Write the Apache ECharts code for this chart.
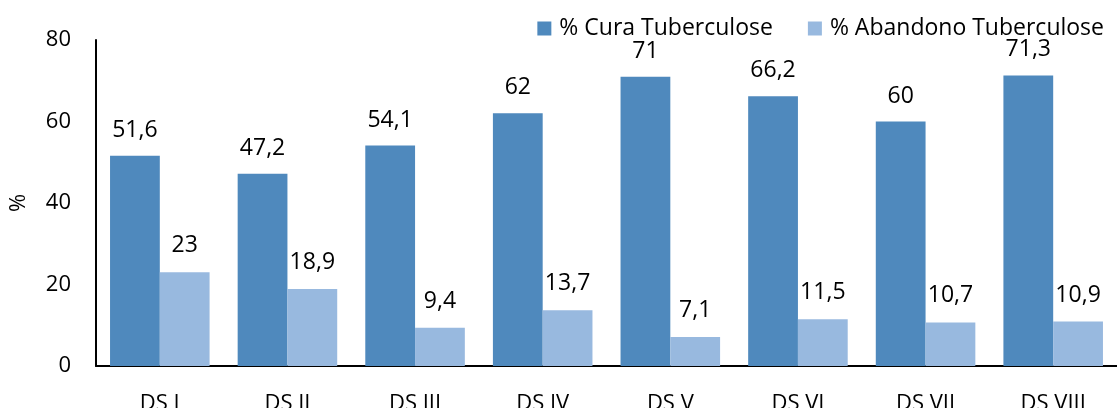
<!DOCTYPE html>
<html>
<head>
<meta charset="utf-8">
<script src="https://cdn.jsdelivr.net/npm/echarts@6/dist/echarts.min.js"></script>
<style>
  html, body { margin: 0; padding: 0; background: #fff; }
  #main { width: 1117px; height: 408px; }
</style>
</head>
<body>
<div id="main"></div>
<script>
// distritos sanitarios
const categories = ['DS I', 'DS II', 'DS III', 'DS IV', 'DS V', 'DS VI', 'DS VII', 'DS VIII'];
const cura = [51.6, 47.2, 54.1, 62, 71, 66.2, 60, 71.3];
const abandono = [23, 18.9, 9.4, 13.7, 7.1, 11.5, 10.7, 10.9];
const yTicks = [0, 20, 40, 60, 80];

const font = '"Open Sans", "Noto Sans", sans-serif';
const fmt = p => String(p.value).replace('.', ',');

const chart = echarts.init(document.getElementById('main'));

chart.setOption({
  animation: false,
  textStyle: { fontFamily: font },
  legend: {
    top: 12,
    right: 8,
    itemWidth: 14,
    itemHeight: 14,
    itemGap: 35,
    icon: 'rect',
    textStyle: { fontSize: 23, color: '#000', fontFamily: font, padding: [0, 0, 0, 3] }
  },
  grid: { left: 96, right: 0, top: 40, bottom: 42, outerBoundsMode: 'none', containLabel: false },
  xAxis: {
    type: 'category',
    data: categories,
    axisLine: { lineStyle: { color: '#000', width: 2 } },
    axisTick: { show: false },
    axisLabel: { color: '#000', fontSize: 22, margin: 27, fontFamily: font }
  },
  yAxis: {
    type: 'value',
    min: yTicks[0],
    max: yTicks[yTicks.length - 1],
    interval: 20,
    name: '%',
    nameLocation: 'middle',
    nameGap: 66,
    nameTextStyle: { color: '#000', fontSize: 22, fontFamily: font },
    axisLine: { show: true, lineStyle: { color: '#000', width: 2 } },
    axisTick: { show: false },
    splitLine: { show: false },
    axisLabel: { color: '#000', fontSize: 22, margin: 25, fontFamily: font }
  },
  series: [
    {
      name: '% Cura Tuberculose',
      type: 'bar',
      data: cura,
      barGap: '0%',
      barCategoryGap: '22%',
      itemStyle: { color: '#4f89bd' },
      label: { show: true, position: 'top', distance: 14, color: '#000', fontSize: 23, fontFamily: font, formatter: fmt }
    },
    {
      name: '% Abandono Tuberculose',
      type: 'bar',
      data: abandono,
      itemStyle: { color: '#98b9df' },
      label: { show: true, position: 'top', distance: 15, color: '#000', fontSize: 23, fontFamily: font, formatter: fmt }
    }
  ]
});
</script>
</body>
</html>
